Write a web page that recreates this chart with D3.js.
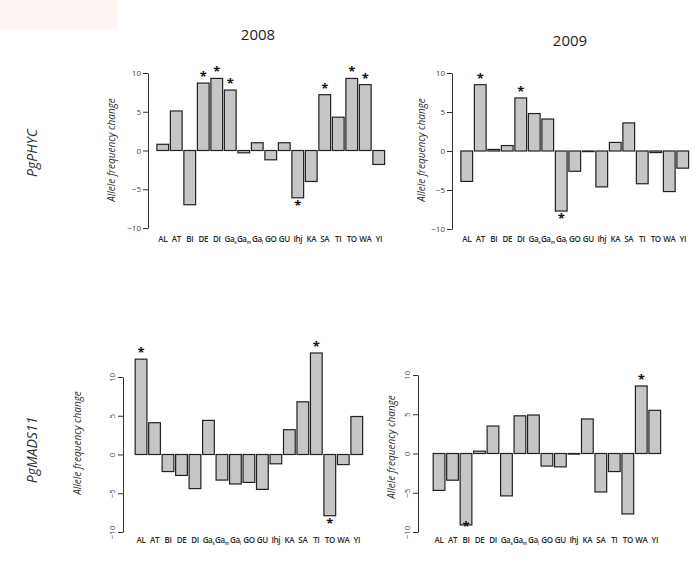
<!DOCTYPE html>
<html><head><meta charset="utf-8">
<script src="https://cdn.jsdelivr.net/npm/d3@7"></script>
<style>body{margin:0;background:#fff}svg{display:block}</style>
</head><body><svg id="c" width="700" height="575"></svg>
<script>
// ---- data ----
const categories = ["AL","AT","BI","DE","DI","Ga_s","Ga_m","Ga_l","GO","GU","Ihj","KA","SA","TI","TO","WA","YI"];
const phyc2008 = [0.8,5.1,-7.0,8.7,9.3,7.8,-0.3,1.0,-1.2,1.0,-6.1,-4.0,7.2,4.3,9.3,8.5,-1.8];
const phyc2009 = [-3.9,8.5,0.2,0.7,6.8,4.8,4.1,-7.7,-2.6,0.0,-4.6,1.1,3.6,-4.2,-0.2,-5.2,-2.2];
const mads2008 = [12.3,4.1,-2.2,-2.7,-4.4,4.4,-3.3,-3.8,-3.6,-4.5,-1.2,3.2,6.8,13.1,-7.9,-1.3,4.9];
const mads2009 = [-4.7,-3.4,-9.1,0.3,3.5,-5.4,4.8,4.9,-1.6,-1.7,0.0,4.4,-4.9,-2.3,-7.7,8.6,5.5];
// significance flags (1 = significant)
const sigPhyc2008 = [0,0,0,1,1,1,0,0,0,0,1,0,1,0,1,1,0];
const sigPhyc2009 = [0,1,0,0,1,0,0,1,0,0,0,0,0,0,0,0,0];
const sigMads2008 = [1,0,0,0,0,0,0,0,0,0,0,0,0,1,1,0,0];
const sigMads2009 = [0,0,1,0,0,0,0,0,0,0,0,0,0,0,0,1,0];
const yTicks = [-10,-5,0,5,10];
const yearLabels = ["2008","2009"];
const geneLabels = ["PgPHYC","PgMADS11"];
const yTitle = "Allele frequency change";

// ---- layout ----
const panels = [
  {vals:phyc2008, sig:sigPhyc2008, ax:148, xr:[156,385.5], yr:[228,73], ly:242, yl:115, ylc:150, rot:false},
  {vals:phyc2009, sig:sigPhyc2009, ax:452, xr:[460,689.5], yr:[229,73], ly:242, yl:425, ylc:150, rot:false},
  {vals:mads2008, sig:sigMads2008, ax:123, xr:[134.3,363.5], yr:[532,377], ly:543, yl:81, ylc:443, rot:true},
  {vals:mads2009, sig:sigMads2009, ax:418, xr:[432.3,661.5], yr:[532,375], ly:543, yl:395, ylc:447, rot:true}
];

const svg = d3.select("#c");
svg.append("rect").attr("x",0).attr("y",0).attr("width",117).attr("height",29).attr("fill","#fff6f4");

const font = "'Open Sans', 'Noto Sans', sans-serif";
const txtCol = "#2a2a2a";

panels.forEach(p => {
  const x = d3.scaleBand().domain(categories).range(p.xr).paddingInner(0.13).paddingOuter(0.065);
  const y = d3.scaleLinear().domain([-10,10]).range(p.yr);
  const g = svg.append("g");

  // bars
  g.selectAll("rect.bar").data(p.vals).join("rect")
    .attr("class","bar")
    .attr("x",(d,i)=>x(categories[i]))
    .attr("width",x.bandwidth())
    .attr("y",d=>y(Math.max(0,d)))
    .attr("height",d=>Math.max(0.6,Math.abs(y(d)-y(0))))
    .attr("fill","#c6c6c6").attr("stroke","#222").attr("stroke-width",1.2);

  // significance stars
  g.selectAll("text.star").data(p.vals.map((v,i)=>({v,i})).filter(d=>p.sig[d.i]))
    .join("text").attr("class","star")
    .attr("x",d=>x(categories[d.i])+x.bandwidth()/2)
    .attr("y",d=>d.v>=0 ? y(d.v)-2 : Math.min(y(d.v)+12, y(-10)-1))
    .attr("text-anchor","middle").attr("font-family",font).attr("font-weight","bold")
    .attr("font-size",13).attr("fill","#111").text("*");

  // y axis
  const axis = g.append("g").attr("transform",`translate(${p.ax},0)`)
    .call(d3.axisLeft(y).tickValues(yTicks).tickSize(5).tickSizeOuter(0).tickFormat(d3.format("d")));
  axis.select(".domain").attr("stroke","#333");
  axis.selectAll(".tick line").attr("stroke","#333");
  axis.selectAll(".tick text").attr("font-family",font).attr("font-size",8).attr("fill","#444");
  if (p.rot) {
    axis.selectAll(".tick text").attr("transform","rotate(-90)")
      .attr("x",0).attr("y",-8).attr("dy",0).attr("text-anchor","middle");
  } else {
    axis.selectAll(".tick text").attr("x",-7);
  }

  // category labels
  const lab = g.selectAll("text.cat").data(categories).join("text").attr("class","cat")
    .attr("x",d=>x(d)+x.bandwidth()/2).attr("y",p.ly)
    .attr("text-anchor","middle").attr("font-family",font).attr("font-weight","600")
    .attr("font-size",8).attr("letter-spacing",-0.35).attr("fill",txtCol);
  lab.each(function(d){
    const t = d3.select(this);
    const parts = d.split("_");
    t.append("tspan").text(parts[0]);
    if (parts[1]) t.append("tspan").attr("font-size",4.5).attr("dy",1.5).text(parts[1]);
  });

  // y title
  g.append("text").attr("transform",`translate(${p.yl},${p.ylc}) rotate(-90)`)
    .attr("text-anchor","middle").attr("font-family",font).attr("font-style","italic")
    .attr("font-size",10).attr("fill",txtCol).text(yTitle);
});

// year titles
svg.append("text").attr("x",258).attr("y",40).attr("text-anchor","middle")
  .attr("font-family",font).attr("font-size",15).attr("fill","#222").text(yearLabels[0]);
svg.append("text").attr("x",570).attr("y",46).attr("text-anchor","middle")
  .attr("font-family",font).attr("font-size",15).attr("fill","#222").text(yearLabels[1]);

// gene labels
svg.append("text").attr("transform","translate(37,153) rotate(-90)").attr("text-anchor","middle")
  .attr("font-family",font).attr("font-style","italic").attr("font-size",14).attr("fill","#333").text(geneLabels[0]);
svg.append("text").attr("transform","translate(37,450) rotate(-90)").attr("text-anchor","middle")
  .attr("font-family",font).attr("font-style","italic").attr("font-size",14).attr("fill","#333").text(geneLabels[1]);
</script>
</body></html>
